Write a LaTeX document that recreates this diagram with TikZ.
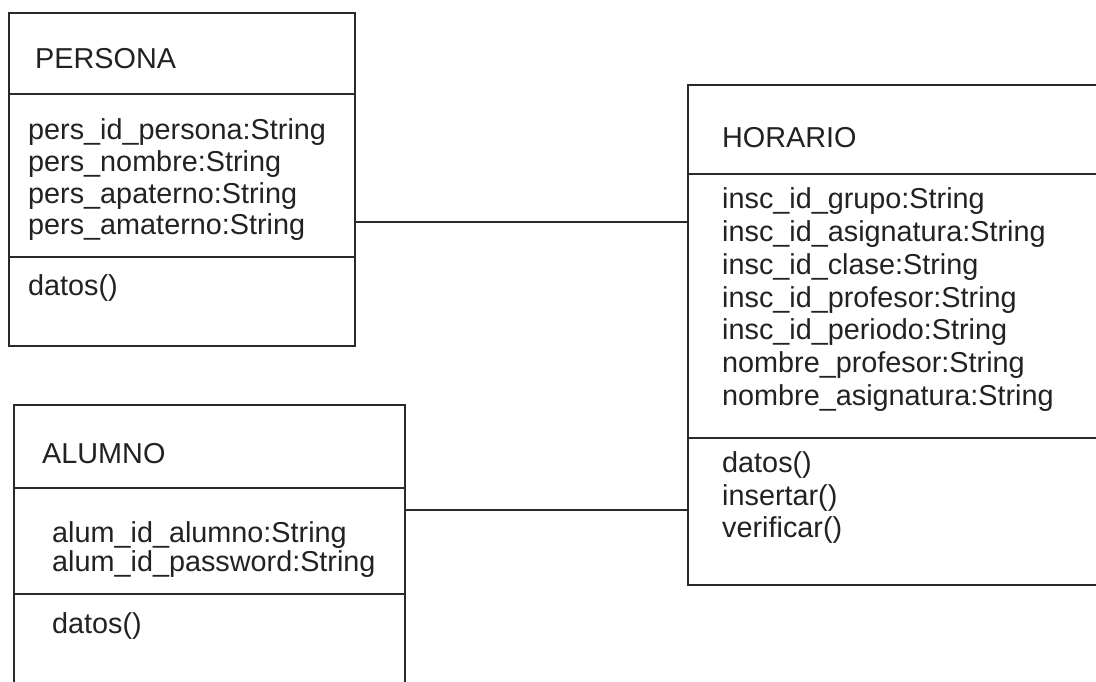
\documentclass[tikz,border=0pt]{standalone}
\usepackage{fontspec}
\setmainfont{Liberation Sans}
\definecolor{inkline}{HTML}{2A2A2A}
\definecolor{inktext}{HTML}{222222}
\tikzset{
  classbox/.style={draw=inkline, line width=1.6pt, rectangle, inner sep=0pt, anchor=north west},
  divider/.style={draw=inkline, line width=1.6pt},
  link/.style={draw=inkline, line width=1.6pt},
  txt/.style={anchor=base west, inner sep=0pt, font=\fontsize{28.8}{32}\selectfont, text=inktext}
}
\begin{document}
\begin{tikzpicture}[x=1pt,y=-1pt]
\useasboundingbox (0,0) rectangle (1096,681);
\clip (0,0) rectangle (1096,681);
\fill[white] (0,0) rectangle (1096,681);

% PERSONA
\node[classbox, minimum width=346pt, minimum height=333pt] (persona) at (8,12) {};
\draw[divider] (persona.west |- 0,94) -- (persona.east |- 0,94);
\draw[divider] (persona.west |- 0,257) -- (persona.east |- 0,257);
\node[txt] (pt) at (35,68) {PERSONA};
\node[txt] (pa1) at (28,139) {pers\_id\_persona:String};
\node[txt] (pa2) at (28,171) {pers\_nombre:String};
\node[txt] (pa3) at (28,203) {pers\_apaterno:String};
\node[txt] (pa4) at (28,234) {pers\_amaterno:String};
\node[txt] (pm1) at (28,295) {datos()};

% ALUMNO
\node[classbox, minimum width=391pt, minimum height=320pt] (alumno) at (13,404) {};
\draw[divider] (alumno.west |- 0,488) -- (alumno.east |- 0,488);
\draw[divider] (alumno.west |- 0,594) -- (alumno.east |- 0,594);
\node[txt] (at) at (42,463) {ALUMNO};
\node[txt] (aa1) at (52,542) {alum\_id\_alumno:String};
\node[txt] (aa2) at (52,571) {alum\_id\_password:String};
\node[txt] (am1) at (52,633) {datos()};

% HORARIO
\node[classbox, minimum width=420pt, minimum height=500pt] (horario) at (687,84) {};
\draw[divider] (horario.west |- 0,174) -- (horario.east |- 0,174);
\draw[divider] (horario.west |- 0,438) -- (horario.east |- 0,438);
\node[txt] (ht) at (722,147) {HORARIO};
\node[txt] (ha1) at (722,208) {insc\_id\_grupo:String};
\node[txt] (ha2) at (722,241) {insc\_id\_asignatura:String};
\node[txt] (ha3) at (722,274) {insc\_id\_clase:String};
\node[txt] (ha4) at (722,307) {insc\_id\_profesor:String};
\node[txt] (ha5) at (722,339) {insc\_id\_periodo:String};
\node[txt] (ha6) at (722,372) {nombre\_profesor:String};
\node[txt] (ha7) at (722,405) {nombre\_asignatura:String};
\node[txt] (hm1) at (722,472) {datos()};
\node[txt] (hm2) at (722,505) {insertar()};
\node[txt] (hm3) at (722,537) {verificar()};

% connectors
\draw[link] (persona.east |- 0,222) -- (horario.west |- 0,222);
\draw[link] (alumno.east |- 0,510) -- (horario.west |- 0,510);
\end{tikzpicture}
\end{document}
